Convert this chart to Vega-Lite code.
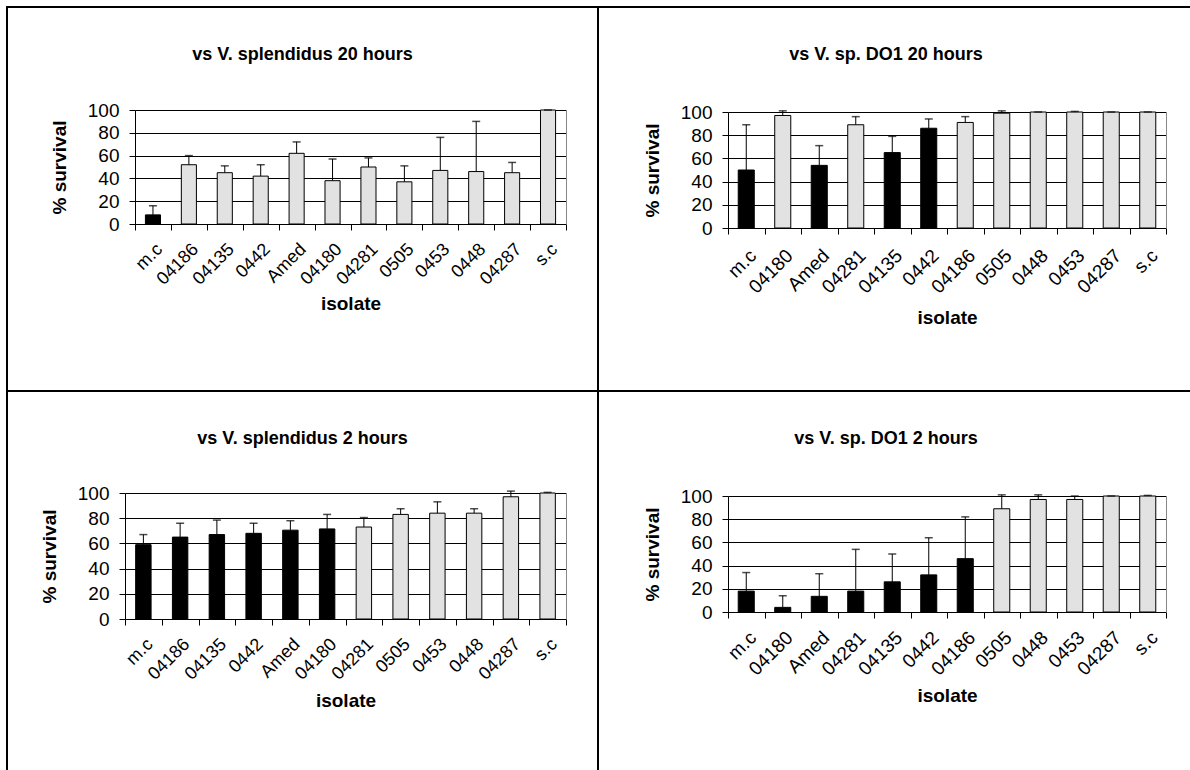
{
  "$schema": "https://vega.github.io/schema/vega-lite/v6.json",
  "padding": {"left": 6, "top": 6, "right": 0, "bottom": 0},
  "background": "white",
  "config": {
    "font": "Liberation Sans",
    "view": {"stroke": "black", "strokeWidth": 2},
    "axis": {"labelColor": "black", "titleColor": "black", "domainColor": "black", "tickColor": "black", "labelFont": "Liberation Sans", "titleFont": "Liberation Sans"},
    "title": {"font": "Liberation Sans", "fontSize": 18, "fontWeight": "bold", "color": "black", "frame": "group", "anchor": "middle"}
  },
  "datasets": {
    "p1": [
      {"isolate": "m.c", "survival": 8, "upper": 16, "group": "black"},
      {"isolate": "04186", "survival": 52, "upper": 60, "group": "dotted"},
      {"isolate": "04135", "survival": 45, "upper": 51, "group": "dotted"},
      {"isolate": "0442", "survival": 42, "upper": 52, "group": "dotted"},
      {"isolate": "Amed", "survival": 62, "upper": 72, "group": "dotted"},
      {"isolate": "04180", "survival": 38, "upper": 57, "group": "dotted"},
      {"isolate": "04281", "survival": 50, "upper": 58, "group": "dotted"},
      {"isolate": "0505", "survival": 37, "upper": 51, "group": "dotted"},
      {"isolate": "0453", "survival": 47, "upper": 76, "group": "dotted"},
      {"isolate": "0448", "survival": 46, "upper": 90, "group": "dotted"},
      {"isolate": "04287", "survival": 45, "upper": 54, "group": "dotted"},
      {"isolate": "s.c", "survival": 100, "upper": 100, "group": "dotted"}
    ],
    "p2": [
      {"isolate": "m.c", "survival": 50, "upper": 89, "group": "black"},
      {"isolate": "04180", "survival": 97, "upper": 101, "group": "dotted"},
      {"isolate": "Amed", "survival": 54, "upper": 71, "group": "black"},
      {"isolate": "04281", "survival": 89, "upper": 96, "group": "dotted"},
      {"isolate": "04135", "survival": 65, "upper": 79, "group": "black"},
      {"isolate": "0442", "survival": 86, "upper": 94, "group": "black"},
      {"isolate": "04186", "survival": 91, "upper": 96, "group": "dotted"},
      {"isolate": "0505", "survival": 99, "upper": 101, "group": "dotted"},
      {"isolate": "0448", "survival": 100, "upper": 100, "group": "dotted"},
      {"isolate": "0453", "survival": 100, "upper": 100.5, "group": "dotted"},
      {"isolate": "04287", "survival": 100, "upper": 100, "group": "dotted"},
      {"isolate": "s.c", "survival": 100, "upper": 100, "group": "dotted"}
    ],
    "p3": [
      {"isolate": "m.c", "survival": 59, "upper": 67, "group": "black"},
      {"isolate": "04186", "survival": 65, "upper": 76, "group": "black"},
      {"isolate": "04135", "survival": 67, "upper": 78.5, "group": "black"},
      {"isolate": "0442", "survival": 68, "upper": 76, "group": "black"},
      {"isolate": "Amed", "survival": 70.5, "upper": 78, "group": "black"},
      {"isolate": "04180", "survival": 71.5, "upper": 83, "group": "black"},
      {"isolate": "04281", "survival": 73, "upper": 80.5, "group": "dotted"},
      {"isolate": "0505", "survival": 83, "upper": 87.5, "group": "dotted"},
      {"isolate": "0453", "survival": 84, "upper": 93, "group": "dotted"},
      {"isolate": "0448", "survival": 84, "upper": 87.5, "group": "dotted"},
      {"isolate": "04287", "survival": 97, "upper": 101.5, "group": "dotted"},
      {"isolate": "s.c", "survival": 100, "upper": 100.5, "group": "dotted"}
    ],
    "p4": [
      {"isolate": "m.c", "survival": 18, "upper": 34, "group": "black"},
      {"isolate": "04180", "survival": 4, "upper": 14, "group": "black"},
      {"isolate": "Amed", "survival": 13.5, "upper": 33, "group": "black"},
      {"isolate": "04281", "survival": 18, "upper": 54, "group": "black"},
      {"isolate": "04135", "survival": 26, "upper": 50, "group": "black"},
      {"isolate": "0442", "survival": 32, "upper": 64, "group": "black"},
      {"isolate": "04186", "survival": 46, "upper": 82, "group": "black"},
      {"isolate": "0505", "survival": 89, "upper": 101, "group": "dotted"},
      {"isolate": "0448", "survival": 97, "upper": 101, "group": "dotted"},
      {"isolate": "0453", "survival": 97, "upper": 100, "group": "dotted"},
      {"isolate": "04287", "survival": 100, "upper": 100, "group": "dotted"},
      {"isolate": "s.c", "survival": 100, "upper": 100.5, "group": "dotted"}
    ]
  },
  "spacing": 0,
  "bounds": "flush",
  "columns": 2,
  "concat": [
    {
      "width": 591, "height": 384,
      "data": {"name": "p1"},
      "title": {"text": "vs V. splendidus 20 hours", "offset": -57},
      "resolve": {"axis": {"y": "independent"}},
      "layer": [
        {
          "mark": {"type": "bar", "width": {"band": 0.42}, "stroke": "black", "strokeWidth": 1},
          "encoding": {
            "x": {"field": "isolate", "type": "nominal", "sort": null,
              "scale": {"range": [128, 559], "paddingInner": 0, "paddingOuter": 0},
              "axis": {"orient": "bottom", "offset": -167, "tickBand": "extent", "labelAngle": -45, "labelFontSize": 18, "labelPadding": 10, "tickSize": 6, "title": "isolate", "titleFontSize": 19, "titleFontWeight": "bold", "titlePadding": 6, "grid": false}},
            "y": {"field": "survival", "type": "quantitative",
              "scale": {"domain": [0, 100], "range": [217, 103], "nice": false},
              "axis": {"orient": "left", "offset": -128, "values": [0, 20, 40, 60, 80, 100], "grid": true, "gridColor": "black", "tickSize": 6, "labelFontSize": 19, "labelPadding": 10, "title": "% survival", "titleFontSize": 19, "titleFontWeight": "bold", "titlePadding": 18}},
            "fill": {"field": "group", "type": "nominal", "scale": {"domain": ["black", "dotted"], "range": ["black", "#e2e2e2"]}, "legend": null}
          }
        },
        {
          "mark": {"type": "rule", "color": "black", "strokeWidth": 1},
          "encoding": {
            "x": {"field": "isolate", "type": "nominal", "sort": null},
            "y": {"field": "survival", "type": "quantitative", "axis": {"orient": "right", "offset": -32, "labels": false, "ticks": false, "grid": false, "title": null, "domainColor": "#888888"}},
            "y2": {"field": "upper"}
          }
        },
        {
          "mark": {"type": "tick", "color": "black", "size": 8, "thickness": 1.5},
          "encoding": {
            "x": {"field": "isolate", "type": "nominal", "sort": null},
            "y": {"field": "upper", "type": "quantitative", "axis": null}
          }
        }
      ]
    },
    {
      "width": 600, "height": 384,
      "data": {"name": "p2"},
      "title": {"text": "vs V. sp. DO1 20 hours", "offset": -57, "dx": -12},
      "resolve": {"axis": {"y": "independent"}},
      "layer": [
        {
          "mark": {"type": "bar", "width": {"band": 0.44}, "stroke": "black", "strokeWidth": 1},
          "encoding": {
            "x": {"field": "isolate", "type": "nominal", "sort": null,
              "scale": {"range": [130, 568], "paddingInner": 0, "paddingOuter": 0},
              "axis": {"orient": "bottom", "offset": -163, "tickBand": "extent", "labelAngle": -45, "labelFontSize": 19, "labelPadding": 12, "tickSize": 6, "title": "isolate", "titleFontSize": 19, "titleFontWeight": "bold", "titlePadding": 12, "grid": false}},
            "y": {"field": "survival", "type": "quantitative",
              "scale": {"domain": [0, 100], "range": [221, 105], "nice": false},
              "axis": {"orient": "left", "offset": -130, "values": [0, 20, 40, 60, 80, 100], "grid": true, "gridColor": "black", "tickSize": 6, "labelFontSize": 19, "labelPadding": 10, "title": "% survival", "titleFontSize": 19, "titleFontWeight": "bold", "titlePadding": 18}},
            "fill": {"field": "group", "type": "nominal", "scale": {"domain": ["black", "dotted"], "range": ["black", "#e2e2e2"]}, "legend": null}
          }
        },
        {
          "mark": {"type": "rule", "color": "black", "strokeWidth": 1},
          "encoding": {
            "x": {"field": "isolate", "type": "nominal", "sort": null},
            "y": {"field": "survival", "type": "quantitative", "axis": {"orient": "right", "offset": -32, "labels": false, "ticks": false, "grid": false, "title": null, "domainColor": "#888888"}},
            "y2": {"field": "upper"}
          }
        },
        {
          "mark": {"type": "tick", "color": "black", "size": 8, "thickness": 1.5},
          "encoding": {
            "x": {"field": "isolate", "type": "nominal", "sort": null},
            "y": {"field": "upper", "type": "quantitative", "axis": null}
          }
        }
      ]
    },
    {
      "width": 591, "height": 400,
      "data": {"name": "p3"},
      "title": {"text": "vs V. splendidus 2 hours", "offset": -57},
      "resolve": {"axis": {"y": "independent"}},
      "layer": [
        {
          "mark": {"type": "bar", "width": {"band": 0.42}, "stroke": "black", "strokeWidth": 1},
          "encoding": {
            "x": {"field": "isolate", "type": "nominal", "sort": null,
              "scale": {"range": [118, 559], "paddingInner": 0, "paddingOuter": 0},
              "axis": {"orient": "bottom", "offset": -172, "tickBand": "extent", "labelAngle": -45, "labelFontSize": 18, "labelPadding": 10, "tickSize": 6, "title": "isolate", "titleFontSize": 19, "titleFontWeight": "bold", "titlePadding": 8, "grid": false}},
            "y": {"field": "survival", "type": "quantitative",
              "scale": {"domain": [0, 100], "range": [228, 102], "nice": false},
              "axis": {"orient": "left", "offset": -118, "values": [0, 20, 40, 60, 80, 100], "grid": true, "gridColor": "black", "tickSize": 6, "labelFontSize": 19, "labelPadding": 10, "title": "% survival", "titleFontSize": 19, "titleFontWeight": "bold", "titlePadding": 18}},
            "fill": {"field": "group", "type": "nominal", "scale": {"domain": ["black", "dotted"], "range": ["black", "#e2e2e2"]}, "legend": null}
          }
        },
        {
          "mark": {"type": "rule", "color": "black", "strokeWidth": 1},
          "encoding": {
            "x": {"field": "isolate", "type": "nominal", "sort": null},
            "y": {"field": "survival", "type": "quantitative", "axis": {"orient": "right", "offset": -32, "labels": false, "ticks": false, "grid": false, "title": null, "domainColor": "#888888"}},
            "y2": {"field": "upper"}
          }
        },
        {
          "mark": {"type": "tick", "color": "black", "size": 8, "thickness": 1.5},
          "encoding": {
            "x": {"field": "isolate", "type": "nominal", "sort": null},
            "y": {"field": "upper", "type": "quantitative", "axis": null}
          }
        }
      ]
    },
    {
      "width": 600, "height": 400,
      "data": {"name": "p4"},
      "title": {"text": "vs V. sp. DO1 2 hours", "offset": -57, "dx": -12},
      "resolve": {"axis": {"y": "independent"}},
      "layer": [
        {
          "mark": {"type": "bar", "width": {"band": 0.44}, "stroke": "black", "strokeWidth": 1},
          "encoding": {
            "x": {"field": "isolate", "type": "nominal", "sort": null,
              "scale": {"range": [130, 568], "paddingInner": 0, "paddingOuter": 0},
              "axis": {"orient": "bottom", "offset": -179, "tickBand": "extent", "labelAngle": -45, "labelFontSize": 19, "labelPadding": 10, "tickSize": 6, "title": "isolate", "titleFontSize": 19, "titleFontWeight": "bold", "titlePadding": 8, "grid": false}},
            "y": {"field": "survival", "type": "quantitative",
              "scale": {"domain": [0, 100], "range": [221, 105], "nice": false},
              "axis": {"orient": "left", "offset": -130, "values": [0, 20, 40, 60, 80, 100], "grid": true, "gridColor": "black", "tickSize": 6, "labelFontSize": 19, "labelPadding": 10, "title": "% survival", "titleFontSize": 19, "titleFontWeight": "bold", "titlePadding": 18}},
            "fill": {"field": "group", "type": "nominal", "scale": {"domain": ["black", "dotted"], "range": ["black", "#e2e2e2"]}, "legend": null}
          }
        },
        {
          "mark": {"type": "rule", "color": "black", "strokeWidth": 1},
          "encoding": {
            "x": {"field": "isolate", "type": "nominal", "sort": null},
            "y": {"field": "survival", "type": "quantitative", "axis": {"orient": "right", "offset": -32, "labels": false, "ticks": false, "grid": false, "title": null, "domainColor": "#888888"}},
            "y2": {"field": "upper"}
          }
        },
        {
          "mark": {"type": "tick", "color": "black", "size": 8, "thickness": 1.5},
          "encoding": {
            "x": {"field": "isolate", "type": "nominal", "sort": null},
            "y": {"field": "upper", "type": "quantitative", "axis": null}
          }
        }
      ]
    }
  ]
}
